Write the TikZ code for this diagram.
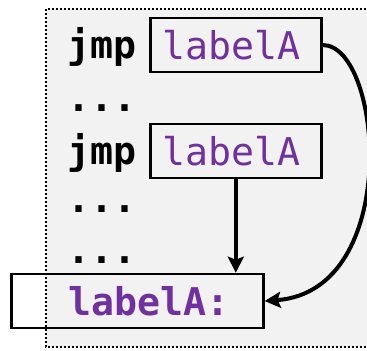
\documentclass[tikz,border=0pt]{standalone}
\usepackage{fontspec}
\setmonofont{DejaVu Sans Mono}
\usetikzlibrary{arrows.meta}
\definecolor{lblpurple}{HTML}{7030A0}
\definecolor{panelgray}{HTML}{F2F2F2}
\tikzset{
  codefont/.style={font=\ttfamily\fontsize{19.1}{23}\selectfont},
  boldcode/.style={font=\ttfamily\bfseries\fontsize{19.1}{23}\selectfont},
  codeline/.style={boldcode, anchor=base west, inner sep=0pt},
  codebox/.style={draw, line width=1.3pt, minimum height=27pt, text=lblpurple},
  jumparrow/.style={line width=2pt, -{Stealth[length=8pt,width=8pt,inset=1.5pt]}}
}
\begin{document}
\begin{tikzpicture}[x=0.5pt, y=-0.5pt]
  \useasboundingbox (0,0) rectangle (367,350);
  \clip (0,0) rectangle (367,350);

  % Rahmen (gepunktet, grau)
  \fill[panelgray] (46,9) rectangle (390,347);
  \draw[line width=1.1pt, dash pattern=on 1pt off 1pt] (46,9) rectangle (390,347);

  % Sprungbefehle
  \node[codeline] (jmpA) at (67,58) {jmp};
  \node[codebox, codefont, anchor=west, inner xsep=6pt, text width=73.5pt, align=left] (tgtA) at (149,45) {labelA};
  \node[codeline] (dotsA) at (67,111) {...};
  \node[codeline] (jmpB) at (67,164) {jmp};
  \node[codebox, codefont, anchor=west, inner xsep=6pt, text width=73.5pt, align=left] (tgtB) at (149,151) {labelA};
  \node[codeline] (dotsB) at (67,212) {...};
  \node[codeline] (dotsC) at (67,263) {...};

  % Sprungziel
  \node[codebox, boldcode, anchor=west, inner xsep=17pt, text width=92pt, align=right] (target) at (10,301) {labelA:};

  % Spruenge
  \draw[jumparrow] (tgtB.south) -- (tgtB.south |- target.north);
  \draw[jumparrow] (tgtA.east) .. controls +(60,0) and +(138,-10) .. (target.east);
\end{tikzpicture}
\end{document}
